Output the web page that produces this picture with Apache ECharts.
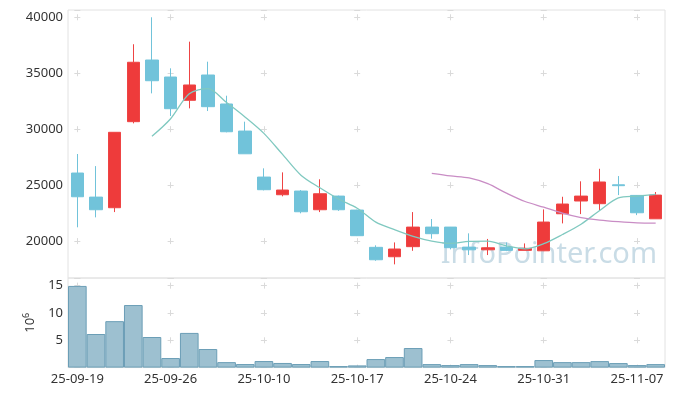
<!DOCTYPE html>
<html>
<head>
<meta charset="utf-8">
<script src="https://cdn.jsdelivr.net/npm/echarts@6/dist/echarts.min.js"></script>
<style>
html,body{margin:0;padding:0;background:#fff;}
#chart{width:676px;height:396px;}
</style>
</head>
<body>
<div id="chart"></div>
<script>
// ---- data ----
const dates = ['25-09-19','25-09-22','25-09-23','25-09-24','25-09-25','25-09-26','25-09-29','25-09-30',
  '25-10-01','25-10-02','25-10-10','25-10-13','25-10-14','25-10-15','25-10-16','25-10-17',
  '25-10-20','25-10-21','25-10-22','25-10-23','25-10-24','25-10-27','25-10-28','25-10-29',
  '25-10-30','25-10-31','25-11-03','25-11-04','25-11-05','25-11-06','25-11-07','25-11-10'];
const opens  = [26080,23930,22980,30670,36180,34660,32580,34840,32250,29830,25720,24140,24470,22800,24020,22770,
                19440,18600,19500,21250,21250,19460,19220,19460,19170,19130,22440,23580,23340,25030,24080,21990];
const closes = [23960,22800,29720,35980,34330,31830,33950,32010,29770,27800,24590,24560,22620,24230,22800,20480,
                18330,19290,21250,20660,19410,19220,19400,19170,19350,21700,23310,24020,25280,24950,22530,24110];
const lows   = [21230,22120,22590,30520,33200,31180,31860,31620,29720,27800,24530,24000,22480,22590,22700,20450,
                18240,17920,19130,20210,19260,18750,18750,19100,19170,19130,21580,22410,22770,24110,22320,21990];
const highs  = [27780,26700,29720,37590,40000,35440,37820,36030,32990,30670,26500,26140,24560,25520,24060,22800,
                19620,19880,22590,21970,21260,20690,20190,19880,19790,22830,23960,25340,26460,25810,24100,24380];
const volumes = [14.95,6.15,8.5,11.45,5.6,1.75,6.35,3.4,1.0,0.65,1.2,0.85,0.65,1.2,0.28,0.4,
                 1.56,1.93,3.58,0.64,0.46,0.64,0.46,0.28,0.28,1.38,1.0,1.0,1.19,0.83,0.46,0.64]; // x10^6
const priceTicks = [20000,25000,30000,35000,40000];
const volTicks = [5,10,15];

// moving averages of the closes
function movingAvg(n){
  return closes.map((c,i)=>{
    if(i < n-1) return '-';
    let s=0; for(let k=i-n+1;k<=i;k++) s+=closes[k];
    return +(s/n).toFixed(1);
  });
}
const ma5 = movingAvg(5);
const ma20 = movingAvg(20);

// ---- layout ----
const W = 676;
const G1 = {left:68, right:11, top:10, height:268};
const G2 = {left:68, right:11, top:278, height:89.6};
const priceMin = 16700, priceMax = 40650, priceStep = 5000;
const volMin = 0, volMax = 16.4, volStep = 5;
const arm = 3;
const plotW = W - G1.left - G1.right;
const bandW = plotW / dates.length;
const every = 5;
const crossColor = '#dadada';
const labelFont = {fontFamily:'Noto Sans', fontSize:13, color:'#333'};

function hDash(){
  const P = bandW*every, s0 = bandW/2 - arm;
  return {type:[2*arm, P-2*arm], dashOffset: ((P - s0)%P + P)%P, color:crossColor, width:1};
}
function vDash(g, min, max, step){
  const P = step/(max-min)*g.height;
  const topTick = Math.floor(max/step)*step;
  const c0 = (max - topTick)/(max-min)*g.height;
  const s0 = c0 - arm;
  return {type:[2*arm, P-2*arm], dashOffset: ((P - s0)%P + P)%P, color:crossColor, width:1};
}

const chart = echarts.init(document.getElementById('chart'), null, {renderer:'canvas'});
chart.setOption({
  animation:false,
  backgroundColor:'#fff',
  grid:[
    Object.assign({show:true, borderColor:'#e2e2e2', borderWidth:1, containLabel:false}, G1),
    Object.assign({show:true, borderColor:'#e2e2e2', borderWidth:1, containLabel:false}, G2)
  ],
  graphic:[{
    type:'text', z:-10, silent:true,
    x:657, y:255,
    style:{text:'InfoPointer.com', font:'29px "Noto Sans"', fill:'#c9dce6', align:'right', verticalAlign:'middle'}
  }],
  xAxis:[
    {type:'category', gridIndex:0, data:dates, boundaryGap:true,
     axisLine:{show:false}, axisTick:{show:false}, axisLabel:{show:false},
     splitLine:{show:true, interval:every-1, alignWithLabel:true, lineStyle:vDash(G1, priceMin, priceMax, priceStep)}},
    {type:'category', gridIndex:1, data:dates, boundaryGap:true,
     axisLine:{show:false}, axisTick:{show:false},
     axisLabel:Object.assign({interval:every-1, margin:5}, labelFont),
     splitLine:{show:true, interval:every-1, alignWithLabel:true, lineStyle:vDash(G2, volMin, volMax, volStep)}}
  ],
  yAxis:[
    {type:'value', gridIndex:0, min:priceMin, max:priceMax, scale:true,
     axisLine:{show:false}, axisTick:{show:false},
     axisLabel:Object.assign({margin:5, formatter:v=> priceTicks.includes(v) ? String(v) : ''}, labelFont),
     splitLine:{show:true, lineStyle:hDash()}},
    {type:'value', gridIndex:1, min:volMin, max:volMax, interval:volStep,
     axisLine:{show:false}, axisTick:{show:false},
     axisLabel:Object.assign({margin:5, formatter:v=> volTicks.includes(v) ? String(v) : ''}, labelFont),
     splitLine:{show:true, lineStyle:hDash()},
     name:'{a|10}{b|6}', nameLocation:'middle', nameRotate:90, nameGap:30,
     nameTextStyle:{color:'#333', rich:{
        a:{fontFamily:'Noto Sans', fontSize:13, color:'#333', lineHeight:16},
        b:{fontFamily:'Noto Sans', fontSize:9, color:'#333', verticalAlign:'top', lineHeight:16, padding:[0,0,6,0]}
     }}}
  ],
  series:[
    {type:'candlestick', xAxisIndex:0, yAxisIndex:0, barWidth:13, z:3,
     data: dates.map((d,i)=>[opens[i], closes[i], lows[i], highs[i]]),
     itemStyle:{color:'#ee3b3b', color0:'#71c3da', borderColor:'#ee4444', borderColor0:'#71c3da', borderWidth:1}},
    {type:'line', xAxisIndex:0, yAxisIndex:0, data:ma5, smooth:0.3, showSymbol:false, z:4,
     lineStyle:{color:'#80c9c0', width:1.3}},
    {type:'line', xAxisIndex:0, yAxisIndex:0, data:ma20, smooth:0.3, showSymbol:false, z:4,
     lineStyle:{color:'#c98dc5', width:1.3}},
    {type:'bar', xAxisIndex:1, yAxisIndex:1, data:volumes, barWidth:'100%', barCategoryGap:'0%',
     itemStyle:{color:'#9dc0d0', borderColor:'#6b9eb6', borderWidth:1}}
  ]
});
</script>
</body>
</html>
